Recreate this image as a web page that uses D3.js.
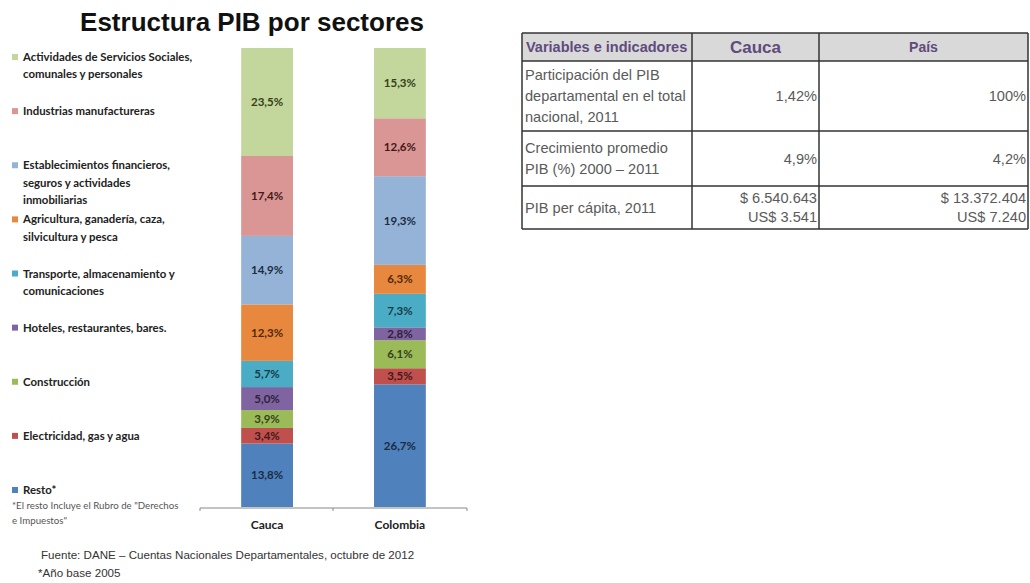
<!DOCTYPE html>
<html>
<head>
<meta charset="utf-8">
<script src="https://cdn.jsdelivr.net/npm/d3@7"></script>
<style>
  body { margin: 0; background: #fff; }
  svg { display: block; }
</style>
</head>
<body>
<svg id="chart" width="1030" height="583"></svg>
<script>
// sectors, legend order (top of the stack first)
const sectors = [
  'Actividades de Servicios Sociales,\ncomunales y personales',
  'Industrias manufactureras',
  'Establecimientos financieros,\nseguros y actividades\ninmobiliarias',
  'Agricultura, ganadería, caza,\nsilvicultura y pesca',
  'Transporte, almacenamiento y\ncomunicaciones',
  'Hoteles, restaurantes, bares.',
  'Construcción',
  'Electricidad, gas y agua',
  'Resto*',
];
const sectorColors = ['#c3d69b', '#d99694', '#95b3d7', '#e8883e', '#4bacc6', '#8064a2', '#9bbb59', '#c0504d', '#4f81bd'];
const regions = ['Cauca', 'Colombia'];
const cauca = [23.5, 17.4, 14.9, 12.3, 5.7, 5.0, 3.9, 3.4, 13.8];
const colombia = [15.3, 12.6, 19.3, 6.3, 7.3, 2.8, 6.1, 3.5, 26.7];

const tableHeader = ['Variables e indicadores', 'Cauca', 'País'];
const tableRows = [
  ['Participación del PIB\ndepartamental en el total\nnacional, 2011', '1,42%', '100%'],
  ['Crecimiento promedio\nPIB (%) 2000 – 2011', '4,9%', '4,2%'],
  ['PIB per cápita, 2011', '$ 6.540.643\nUS$ 3.541', '$ 13.372.404\nUS$ 7.240'],
];

const svg = d3.select('#chart');

// title
svg.append('text')
  .attr('x', 252).attr('y', 31)
  .attr('text-anchor', 'middle')
  .attr('font-family', 'Liberation Sans, Arial, sans-serif')
  .attr('font-weight', 'bold')
  .attr('font-size', 26)
  .attr('fill', '#111')
  .text('Estructura PIB por sectores');

// stacked 100% bars
const rows = regions.map((r, j) => {
  const row = { region: r };
  const vals = j === 0 ? cauca : colombia;
  sectors.forEach((s, i) => { row[s] = vals[i]; });
  return row;
});
const stackKeys = sectors.slice().reverse();
const series = d3.stack().keys(stackKeys).offset(d3.stackOffsetExpand)(rows);

const x = d3.scaleBand().domain(regions).range([200, 467]).paddingInner(0.61).paddingOuter(0.31);
const y = d3.scaleLinear().domain([0, 1]).range([507, 48]);
const color = d3.scaleOrdinal().domain(sectors).range(sectorColors);

const fmt = v => d3.format('.1f')(v).replace('.', ',') + '%';
const labelFont = 'Lato, Carlito, Calibri, sans-serif';

const layer = svg.append('g').selectAll('g')
  .data(series)
  .join('g')
  .attr('fill', d => color(d.key));

layer.selectAll('rect')
  .data(d => d.map(p => Object.assign(p, { key: d.key })))
  .join('rect')
  .attr('x', d => x(d.data.region))
  .attr('width', x.bandwidth())
  .attr('y', d => y(d[1]))
  .attr('height', d => y(d[0]) - y(d[1]));

layer.selectAll('text')
  .data(d => d)
  .join('text')
  .attr('x', d => x(d.data.region) + x.bandwidth() / 2)
  .attr('y', d => (y(d[0]) + y(d[1])) / 2)
  .attr('dy', '0.35em')
  .attr('text-anchor', 'middle')
  .attr('font-family', labelFont)
  .attr('font-weight', 'bold')
  .attr('font-size', 11.5)
  .attr('fill', d => {
    const c = d3.hsl(color(d.key));
    c.l = 0.18;
    return c.formatHex();
  })
  .text(d => fmt(d.data[d.key]));

// category axis
const axis = svg.append('g')
  .attr('transform', 'translate(0,508)')
  .call(d3.axisBottom(x).tickSize(0).tickPadding(12));
axis.select('.domain').attr('stroke', '#888').attr('d', 'M200,3V0H467V3');
axis.selectAll('.sep')
  .data([333])
  .join('line')
  .attr('class', 'sep')
  .attr('x1', d => d).attr('x2', d => d)
  .attr('y1', 0).attr('y2', 3)
  .attr('stroke', '#888');
axis.selectAll('.tick text')
  .attr('font-family', labelFont)
  .attr('font-weight', 'bold')
  .attr('font-size', 12)
  .attr('fill', '#222');

// legend
const ly = d3.scalePoint().domain(sectors).range([57, 490]);
const legend = svg.append('g').selectAll('g')
  .data(sectors)
  .join('g')
  .attr('transform', d => `translate(0,${ly(d)})`);
legend.append('rect')
  .attr('x', 12).attr('y', -3)
  .attr('width', 6).attr('height', 6)
  .attr('fill', d => color(d));
legend.append('text')
  .attr('font-family', labelFont)
  .attr('font-weight', 'bold')
  .attr('font-size', 11.4)
  .attr('fill', '#222')
  .selectAll('tspan')
  .data(d => d.split('\n'))
  .join('tspan')
  .attr('x', 23)
  .attr('y', (d, i) => i * 17.5)
  .attr('dy', '0.35em')
  .text(d => d);

svg.append('text')
  .attr('font-family', labelFont)
  .attr('font-size', 9.7)
  .attr('fill', '#555')
  .selectAll('tspan')
  .data(['*El resto Incluye el Rubro de "Derechos', 'e Impuestos"'])
  .join('tspan')
  .attr('x', 12)
  .attr('y', (d, i) => 509 + i * 15)
  .text(d => d);

// source
svg.append('text')
  .attr('font-family', 'Liberation Sans, Arial, sans-serif')
  .attr('font-size', 11.6)
  .attr('fill', '#333')
  .selectAll('tspan')
  .data(['Fuente: DANE – Cuentas Nacionales Departamentales, octubre de 2012', '*Año base 2005'])
  .join('tspan')
  .attr('x', (d, i) => (i === 0 ? 41 : 38))
  .attr('y', (d, i) => 559 + i * 18)
  .text(d => d);

// indicator table
const colX = [522, 692, 819, 1028];
const rowY = [33, 61, 131, 186, 229];
const table = svg.append('g')
  .attr('font-family', 'Liberation Sans, Arial, sans-serif');

table.append('rect')
  .attr('x', colX[0]).attr('y', rowY[0])
  .attr('width', colX[3] - colX[0]).attr('height', rowY[1] - rowY[0])
  .attr('fill', '#d9d9d9');

tableHeader.forEach((h, i) => {
  table.append('text')
    .attr('x', i === 0 ? colX[0] + 4 : (colX[i] + colX[i + 1]) / 2)
    .attr('y', (rowY[0] + rowY[1]) / 2)
    .attr('dy', '0.35em')
    .attr('text-anchor', i === 0 ? 'start' : 'middle')
    .attr('font-weight', 'bold')
    .attr('font-size', [14.5, 17, 14][i])
    .attr('fill', '#5f4b7d')
    .text(h);
});

tableRows.forEach((row, r) => {
  const mid = (rowY[r + 1] + rowY[r + 2]) / 2;
  row.forEach((cell, c) => {
    const lines = cell.split('\n');
    const lh = c === 0 ? 21 : 19;
    table.append('text')
      .attr('text-anchor', c === 0 ? 'start' : 'end')
      .attr('font-size', 14.6)
      .attr('fill', '#5a5a5a')
      .selectAll('tspan')
      .data(lines)
      .join('tspan')
      .attr('x', c === 0 ? colX[0] + 3 : colX[c + 1] - 2)
      .attr('y', (d, i) => mid + (i - (lines.length - 1) / 2) * lh)
      .attr('dy', '0.35em')
      .text(d => d);
  });
});

const border = '#333';
rowY.forEach(yy => {
  table.append('line')
    .attr('x1', colX[0]).attr('x2', colX[3])
    .attr('y1', yy).attr('y2', yy)
    .attr('stroke', border).attr('stroke-width', 1.5);
});
colX.forEach(xx => {
  table.append('line')
    .attr('x1', xx).attr('x2', xx)
    .attr('y1', rowY[0]).attr('y2', rowY[rowY.length - 1])
    .attr('stroke', border).attr('stroke-width', 1.5);
});
</script>
</body>
</html>
